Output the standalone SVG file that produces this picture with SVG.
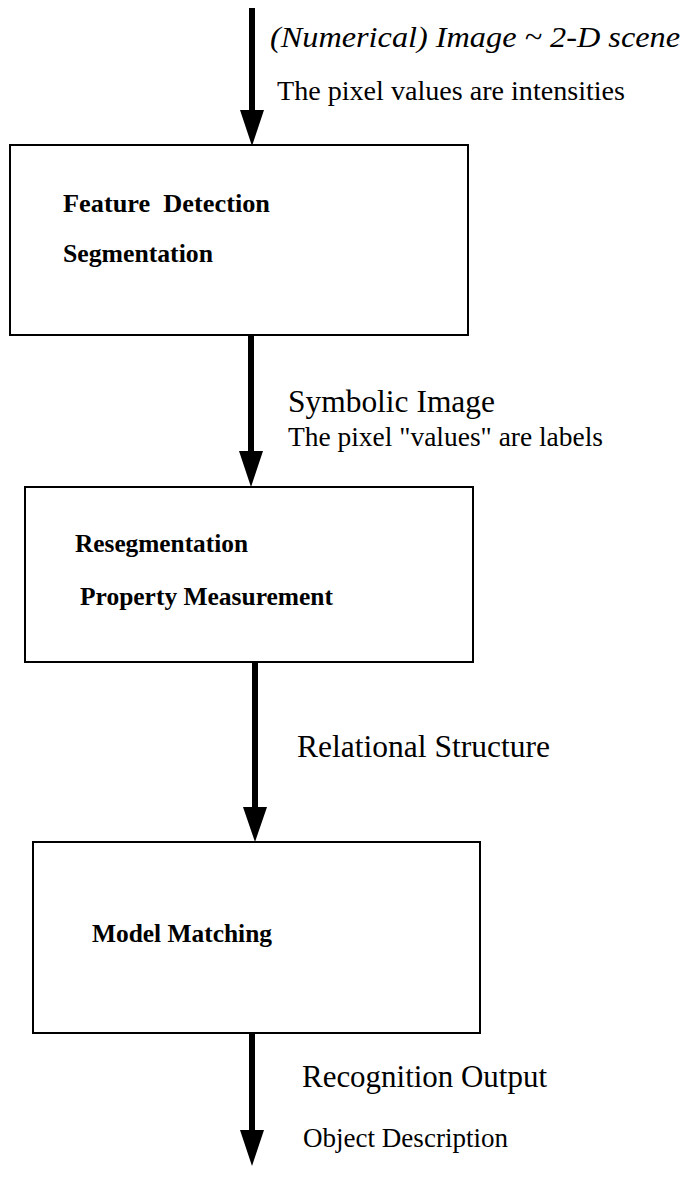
<svg xmlns="http://www.w3.org/2000/svg" width="688" height="1180" viewBox="0 0 688 1180">
<style>
.box{fill:#fff;stroke:#000;stroke-width:2}
.shaft{stroke:#000;stroke-width:6;fill:none}
.head{fill:#000}
.lbl{font-family:"Liberation Serif","Times New Roman",serif;font-weight:bold;font-size:26px;fill:#000}
.big{font-family:"Liberation Serif","Times New Roman",serif;font-size:31px;fill:#000}
.small{font-family:"Liberation Serif","Times New Roman",serif;font-size:27px;fill:#000}
.ital{font-family:"Liberation Serif","Times New Roman",serif;font-style:italic;font-size:30px;fill:#000}
</style>
<rect width="688" height="1180" fill="#fff"/>
<g id="connectors">
  <g id="arrow-in">
    <line class="shaft" x1="252" y1="8" x2="252" y2="112"/>
    <polygon class="head" points="240,110 264,110 252,146"/>
  </g>
  <g id="arrow-1-2">
    <line class="shaft" x1="251" y1="335" x2="251" y2="453"/>
    <polygon class="head" points="239,451 263,451 251,487"/>
  </g>
  <g id="arrow-2-3">
    <line class="shaft" x1="255" y1="662" x2="255" y2="809"/>
    <polygon class="head" points="243,807 267,807 255,842"/>
  </g>
  <g id="arrow-out">
    <line class="shaft" x1="252" y1="1033" x2="252" y2="1132"/>
    <polygon class="head" points="240,1130 264,1130 252,1166"/>
  </g>
</g>
<g id="edge-labels">
  <text class="ital" x="270" y="47" textLength="410" lengthAdjust="spacingAndGlyphs">(Numerical) Image ~ 2-D scene</text>
  <text class="small" x="277" y="100" textLength="348" lengthAdjust="spacingAndGlyphs">The pixel values are intensities</text>
  <text class="big" x="288" y="412" textLength="207" lengthAdjust="spacingAndGlyphs">Symbolic Image</text>
  <text class="small" x="288" y="446" textLength="315" lengthAdjust="spacingAndGlyphs">The pixel "values" are labels</text>
  <text class="big" x="297" y="757" textLength="253" lengthAdjust="spacingAndGlyphs">Relational Structure</text>
  <text class="big" x="302" y="1087" textLength="245" lengthAdjust="spacingAndGlyphs">Recognition Output</text>
  <text class="small" x="303" y="1147" textLength="205" lengthAdjust="spacingAndGlyphs">Object Description</text>
</g>
<g id="node-feature-detection">
  <rect class="box" x="10" y="145" width="458" height="190"/>
  <text class="lbl" x="63" y="212" textLength="207" lengthAdjust="spacingAndGlyphs" xml:space="preserve">Feature  Detection</text>
  <text class="lbl" x="63" y="262" textLength="150" lengthAdjust="spacingAndGlyphs">Segmentation</text>
</g>
<g id="node-resegmentation">
  <rect class="box" x="25" y="487" width="448" height="175"/>
  <text class="lbl" x="75" y="552" textLength="173" lengthAdjust="spacingAndGlyphs">Resegmentation</text>
  <text class="lbl" x="80" y="605" textLength="253" lengthAdjust="spacingAndGlyphs">Property Measurement</text>
</g>
<g id="node-model-matching">
  <rect class="box" x="33" y="842" width="447" height="191"/>
  <text class="lbl" x="92" y="942" textLength="180" lengthAdjust="spacingAndGlyphs">Model Matching</text>
</g>
</svg>
